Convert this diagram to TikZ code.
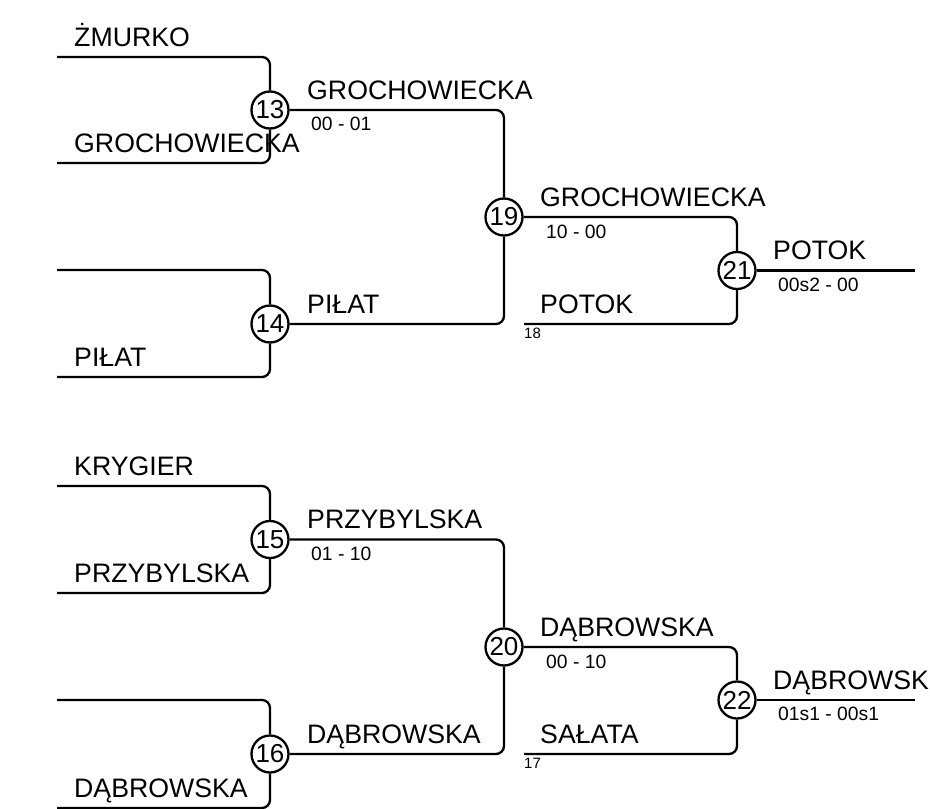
\documentclass[tikz,border=0pt]{standalone}
\usepackage{fontspec}
\setmainfont{Liberation Sans}
\usepackage{tikz}
\usetikzlibrary{positioning}

\begin{document}
\begin{tikzpicture}[
  x=1pt,y=-1pt,
  match/.style={circle,draw,fill=white,line width=2.3,minimum size=37,inner sep=0,font=\fontsize{26}{30}\selectfont},
  team/.style={anchor=base west,inner sep=0,font=\fontsize{26.7}{30}\selectfont},
  score/.style={anchor=base west,inner sep=0,font=\fontsize{19.3}{22}\selectfont},
  seed/.style={anchor=base west,inner sep=0,font=\fontsize{15}{18}\selectfont},
  link/.style={line width=2.3,rounded corners=8}
]
\useasboundingbox (0,0) rectangle (930,809);

% matches
\node[match] (m13) at (270,110) {13};
\node[match] (m14) at (270,324) {14};
\node[match] (m19) at (504,217) {19};
\node[match] (m21) at (737,270.5) {21};
\node[match] (m15) at (270,539.5) {15};
\node[match] (m16) at (270,754) {16};
\node[match] (m20) at (504,647) {20};
\node[match] (m22) at (737,700) {22};

% line ends
\coordinate (e13a) at (57,57);
\coordinate (e13b) at (57,163);
\coordinate (e14a) at (57,270);
\coordinate (e14b) at (57,377);
\coordinate (e21b) at (524,324);
\coordinate (w21) at (915,270.5);
\coordinate (e15a) at (57,486);
\coordinate (e15b) at (57,593);
\coordinate (e16a) at (57,700);
\coordinate (e16b) at (57,808);
\coordinate (e22b) at (524,754);
\coordinate (w22) at (915,700);

% upper half
\draw[link] (e13a) -| (m13);
\draw[link] (e13b) -| (m13);
\draw[link] (e14a) -| (m14);
\draw[link] (e14b) -| (m14);
\draw[link] (m13) -| (m19);
\draw[link] (m14) -| (m19);
\draw[link] (m19) -| (m21);
\draw[link] (e21b) -| (m21);
\draw[link] (m21) -- (w21);

% lower half
\draw[link] (e15a) -| (m15);
\draw[link] (e15b) -| (m15);
\draw[link] (e16a) -| (m16);
\draw[link] (e16b) -| (m16);
\draw[link] (m15) -| (m20);
\draw[link] (m16) -| (m20);
\draw[link] (m20) -| (m22);
\draw[link] (e22b) -| (m22);
\draw[link] (m22) -- (w22);

% names and scores
\node[team] (t13a) at (74,46) {ŻMURKO};
\node[team] (t13b) at (74,152) {GROCHOWIECKA};
\node[team] (t14b) at (74,366) {PIŁAT};
\node[team] (t13w) at (307,99) {GROCHOWIECKA};
\node[score] (s13) at (311,130) {00 - 01};
\node[team] (t14w) at (307,313) {PIŁAT};
\node[team] (t19w) at (540,206) {GROCHOWIECKA};
\node[score] (s19) at (546,238) {10 - 00};
\node[team] (t21b) at (540,313) {POTOK};
\node[seed] (d18) at (524,338) {18};
\node[team] (t21w) at (773,259.5) {POTOK};
\node[score] (s21) at (778,291) {00s2 - 00};

\node[team] (t15a) at (74,475) {KRYGIER};
\node[team] (t15b) at (74,582) {PRZYBYLSKA};
\node[team] (t16b) at (74,797) {DĄBROWSKA};
\node[team] (t15w) at (307,528.5) {PRZYBYLSKA};
\node[score] (s15) at (311,560) {01 - 10};
\node[team] (t16w) at (307,743) {DĄBROWSKA};
\node[team] (t20w) at (540,636) {DĄBROWSKA};
\node[score] (s20) at (546,668) {00 - 10};
\node[team] (t22b) at (540,743) {SAŁATA};
\node[seed] (d17) at (524,768) {17};
\node[team] (t22w) at (773,689) {DĄBROWSK};
\node[score] (s22) at (778,720.5) {01s1 - 00s1};
\end{tikzpicture}
\end{document}
